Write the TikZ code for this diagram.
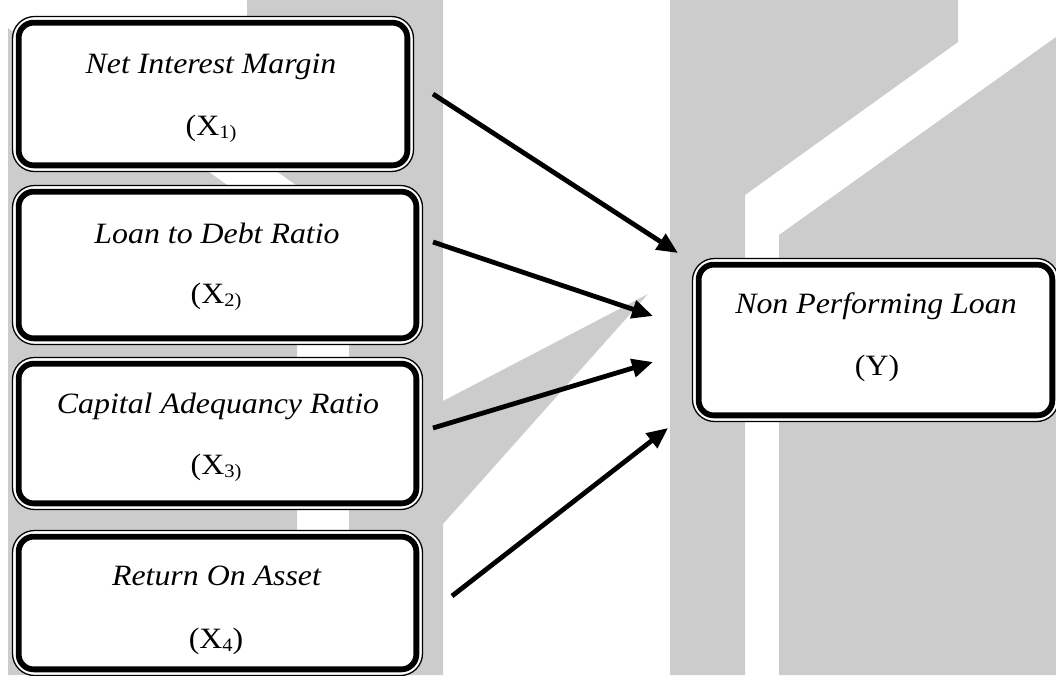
\documentclass[tikz,border=0pt]{standalone}
\usepackage{fontspec}
\setmainfont{Liberation Serif}
\usetikzlibrary{arrows.meta}
\definecolor{wm}{RGB}{204,204,204}
\newcommand\sbx[1]{\raisebox{-3pt}{\fontsize{19}{19}\selectfont #1}}
\begin{document}
\begin{tikzpicture}[x=1pt,y=-1pt,
  outerbox/.style={draw=black, line width=1.3pt, fill=white, rounded corners=22pt, inner sep=0pt},
  innerbox/.style={draw=black, line width=5.8pt, rounded corners=15pt},
  lbl/.style={anchor=base, inner sep=0pt, font=\fontsize{29.5}{29.5}\selectfont},
  arr/.style={line width=4.8pt, -{Triangle[length=21pt,width=18pt]}}]
\useasboundingbox (0,0) rectangle (1056,675);
\clip (0,0) rectangle (1056,675);
% watermark background
\fill[wm] (8,28) -- (297,235) -- (297,675) -- (8,675) -- cycle;
\fill[wm] (247,0) -- (443,0) -- (443,675) -- (349,675) -- (349,223) -- (247,150) -- cycle;
\fill[wm] (443,401) -- (648,294) -- (443,524) -- cycle;
\fill[wm] (670,0) -- (958,0) -- (958,42) -- (745,195) -- (745,675) -- (670,675) -- cycle;
\fill[wm] (779,675) -- (779,235) -- (1056,37) -- (1056,675) -- cycle;
% boxes
\node[outerbox, minimum width=401pt, minimum height=155pt] (b1) at (213,94) {};
\node[outerbox, minimum width=410pt, minimum height=159pt] (b2) at (217.5,265) {};
\node[outerbox, minimum width=410pt, minimum height=152pt] (b3) at (217.5,433.5) {};
\node[outerbox, minimum width=410pt, minimum height=145pt] (b4) at (217.5,603) {};
\node[outerbox, minimum width=366pt, minimum height=163pt] (by) at (875.5,340) {};
\foreach \b in {b1,b2,b3,b4,by}
  \draw[innerbox] ([shift={(6.8,6.8)}]\b.north west) rectangle ([shift={(-6.8,-6.8)}]\b.south east);
% texts
\node[lbl] (t1a) at (211,73) {\scalebox{1.08}[1]{\itshape Net Interest Margin}};
\node[lbl] (t1b) at (211,135) {\scalebox{1.08}[1]{(X\sbx{1)}}};
\node[lbl] (t2a) at (217,243) {\scalebox{1.08}[1]{\itshape Loan to Debt Ratio}};
\node[lbl] (t2b) at (216,303) {\scalebox{1.08}[1]{(X\sbx{2)}}};
\node[lbl] (t3a) at (218,413) {\scalebox{1.08}[1]{\itshape Capital Adequancy Ratio}};
\node[lbl] (t3b) at (216,474) {\scalebox{1.08}[1]{(X\sbx{3)}}};
\node[lbl] (t4a) at (216.5,585) {\scalebox{1.08}[1]{\itshape Return On Asset}};
\node[lbl] (t4b) at (216,648) {\scalebox{1.08}[1]{(X\sbx{4})}};
\node[lbl] (tya) at (876,313) {\scalebox{1.08}[1]{\itshape Non Performing Loan}};
\node[lbl] (tyb) at (877,375) {\scalebox{1.08}[1]{(Y)}};
% arrows
\coordinate (s1) at (433,94);  \coordinate (e1) at (678,253);
\coordinate (s2) at (433,242); \coordinate (e2) at (653,316);
\coordinate (s3) at (433,428); \coordinate (e3) at (653,362);
\coordinate (s4) at (452,596); \coordinate (e4) at (668,428);
\draw[arr] (s1) -- (e1);
\draw[arr] (s2) -- (e2);
\draw[arr] (s3) -- (e3);
\draw[arr] (s4) -- (e4);
\end{tikzpicture}
\end{document}
